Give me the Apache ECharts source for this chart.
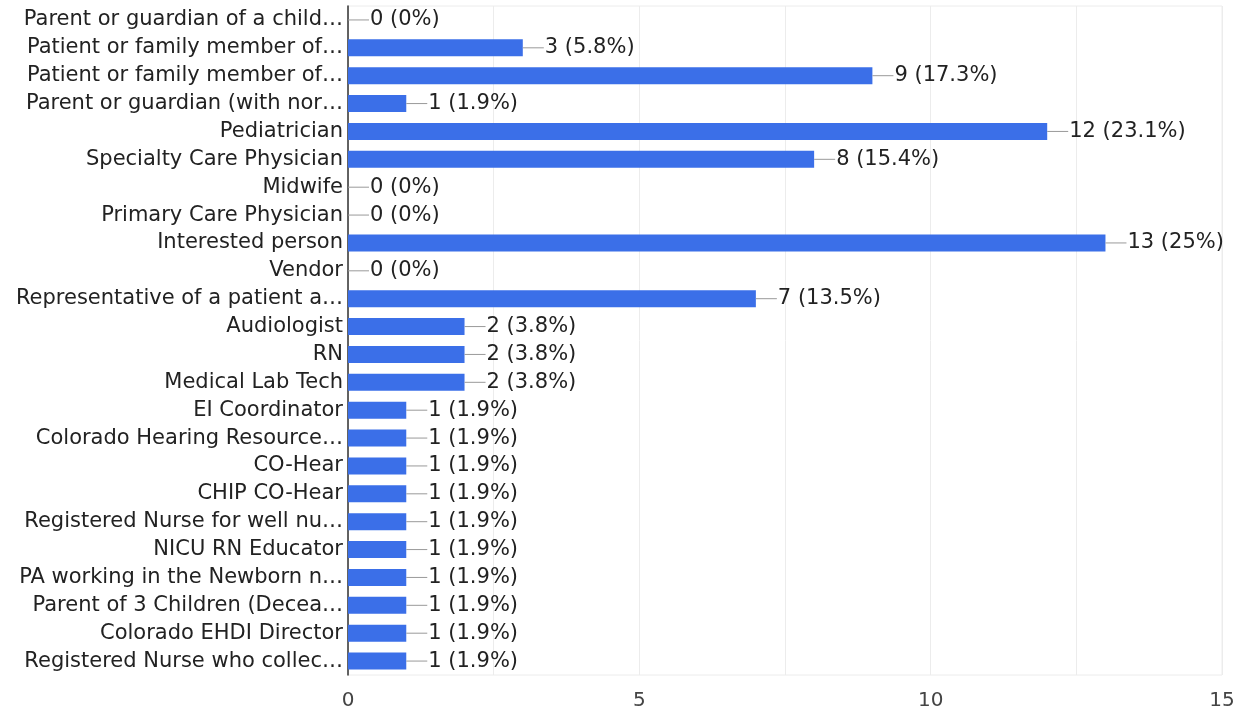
<!DOCTYPE html>
<html>
<head>
<meta charset="utf-8">
<script src="https://cdn.jsdelivr.net/npm/echarts@6/dist/echarts.min.js"></script>
<style>html,body{margin:0;padding:0;background:#fff}#c{width:1238px;height:713px}</style>
</head>
<body>
<div id="c"></div>
<script>
const categories = [
  "Parent or guardian of a child…",
  "Patient or family member of…",
  "Patient or family member of…",
  "Parent or guardian (with nor…",
  "Pediatrician",
  "Specialty Care Physician",
  "Midwife",
  "Primary Care Physician",
  "Interested person",
  "Vendor",
  "Representative of a patient a…",
  "Audiologist",
  "RN",
  "Medical Lab Tech",
  "EI Coordinator",
  "Colorado Hearing Resource…",
  "CO-Hear",
  "CHIP CO-Hear",
  "Registered Nurse for well nu…",
  "NICU RN Educator",
  "PA working in the Newborn n…",
  "Parent of 3 Children (Decea…",
  "Colorado EHDI Director",
  "Registered Nurse who collec…"
];
const counts = [0,3,9,1,12,8,0,0,13,0,7,2,2,2,1,1,1,1,1,1,1,1,1,1];
const percents = ["0%","5.8%","17.3%","1.9%","23.1%","15.4%","0%","0%","25%","0%","13.5%","3.8%","3.8%","3.8%","1.9%","1.9%","1.9%","1.9%","1.9%","1.9%","1.9%","1.9%","1.9%","1.9%"];
const xTicks = [0,5,10,15];

const FONT = 'DejaVu Sans, Liberation Sans, Arial, sans-serif';
const chart = echarts.init(document.getElementById('c'));
chart.setOption({
  animation: false,
  grid: {left: 348, right: 16, top: 6, bottom: 38, show: true, borderColor: '#ececec', borderWidth: 1},
  xAxis: {
    type: 'value', min: 0, max: 15, interval: 2.5,
    axisLine: {show: false}, axisTick: {show: false},
    splitLine: {lineStyle: {color: '#ececec', width: 1}},
    axisLabel: {
      fontFamily: FONT, fontSize: 20, color: '#444', margin: 16,
      formatter: v => xTicks.indexOf(v) >= 0 ? String(v) : ''
    }
  },
  yAxis: {
    type: 'category', data: categories, inverse: true,
    axisLine: {show: true, lineStyle: {color: '#333', width: 1.5}},
    axisTick: {show: false},
    splitLine: {show: false},
    axisLabel: {fontFamily: FONT, fontSize: 21, color: '#222', margin: 5}
  },
  series: [{
    type: 'bar',
    data: counts,
    barWidth: 17,
    itemStyle: {color: '#3b6fe8'},
    label: {
      show: true, position: 'right', distance: 0,
      formatter: p => '{l|}{t|' + p.value + ' (' + percents[p.dataIndex] + ')}',
      rich: {
        l: {width: 21, height: 1, backgroundColor: '#999'},
        t: {fontFamily: FONT, fontSize: 21, color: '#222', padding: [0,0,0,1]}
      }
    }
  }]
});
</script>
</body>
</html>
